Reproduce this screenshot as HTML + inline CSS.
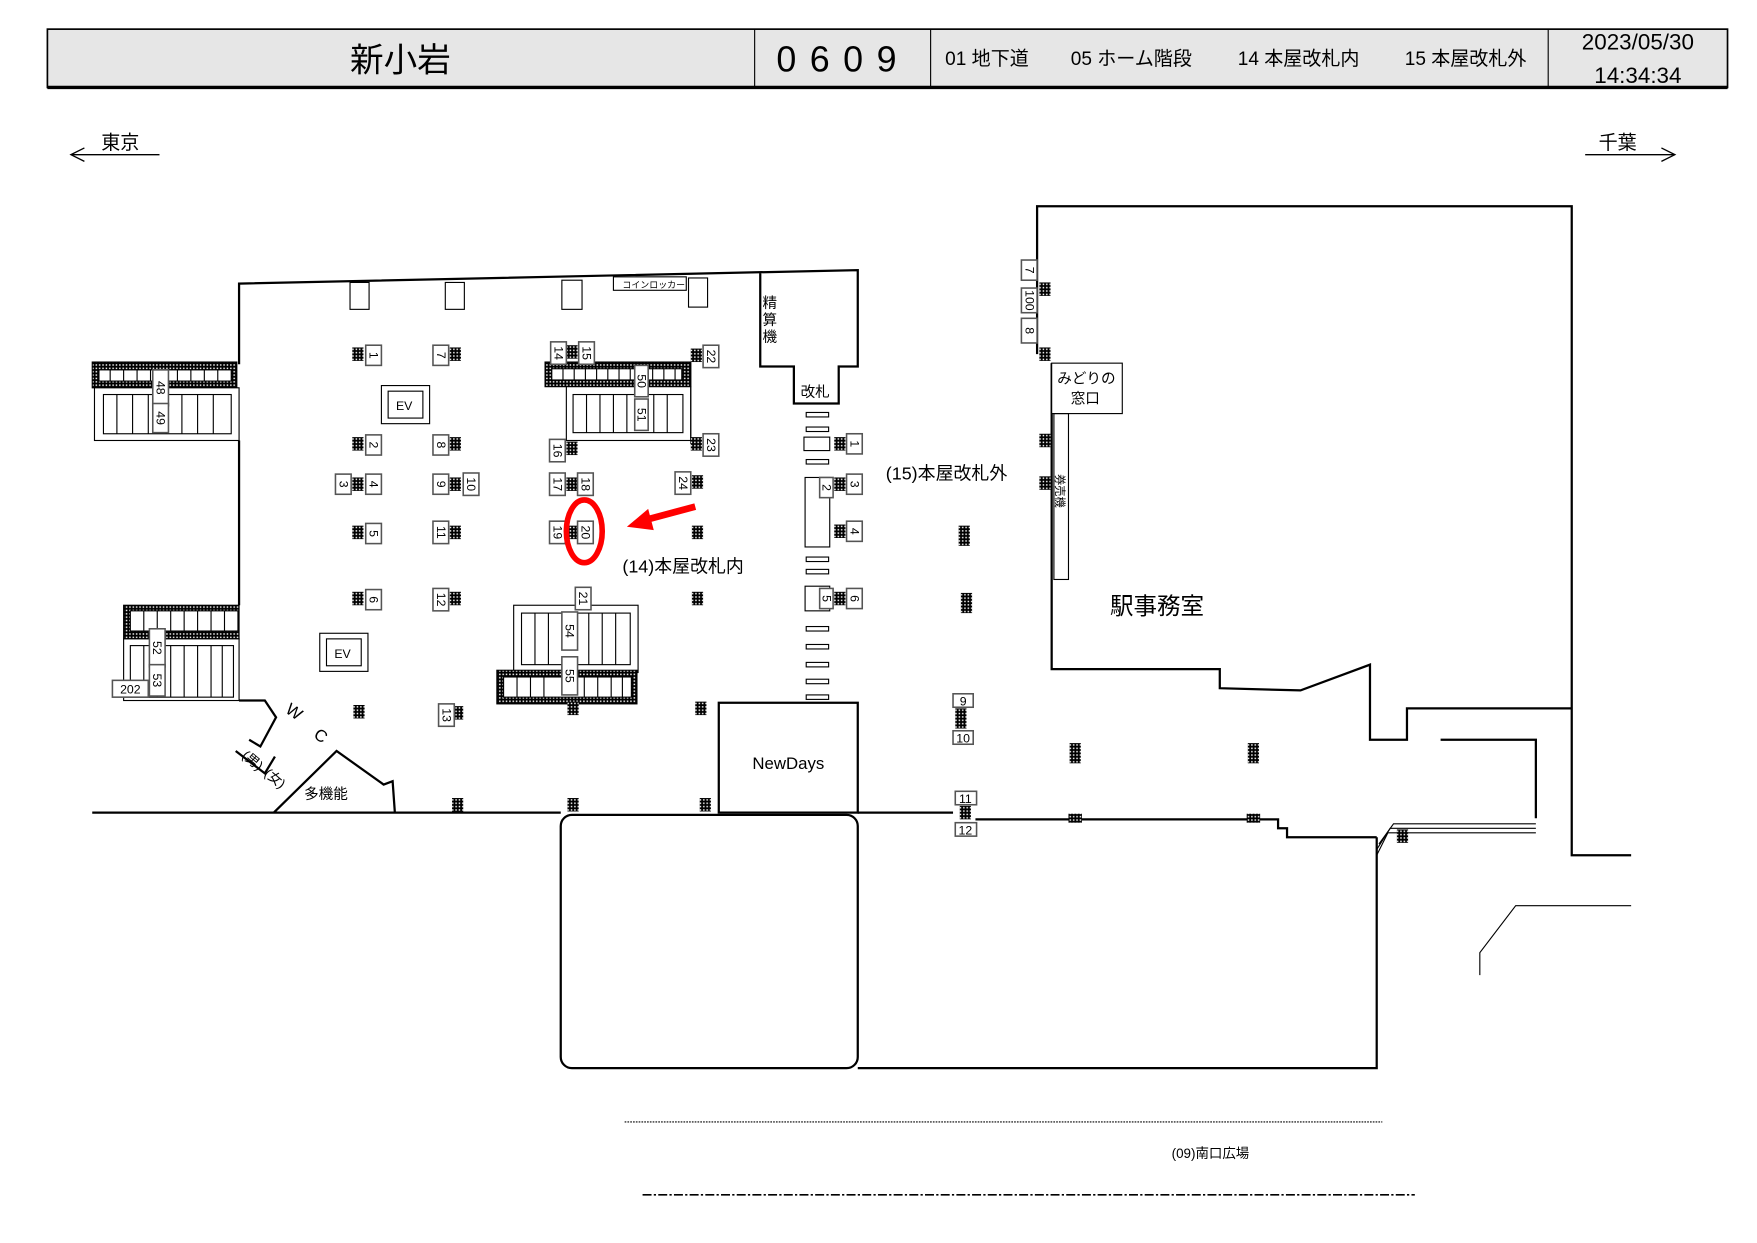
<!DOCTYPE html>
<html><head><meta charset="utf-8"><style>
html,body{margin:0;padding:0;background:#fff}
svg{display:block}
text{font-family:"Liberation Sans","Noto Sans CJK JP",sans-serif;fill:#000}
.l rect{fill:#fff;stroke:#555;stroke-width:1.4}
.l text{font-size:11px;text-anchor:middle;dominant-baseline:central}
</style></head><body>
<svg width="1757" height="1243" viewBox="0 0 1567 1109" xmlns="http://www.w3.org/2000/svg">
<defs>
<pattern id="ck" width="3" height="3" patternUnits="userSpaceOnUse"><rect width="3" height="3" fill="#000"/><rect x="1" y="1" width="1.3" height="1.3" fill="#fff"/></pattern>
<rect id="c" x="-5" y="-6" width="10" height="12" fill="url(#ck)"/>
<rect id="ct" x="-5" y="-9" width="10" height="18" fill="url(#ck)"/>
<rect id="cs" x="-6" y="-4" width="12" height="8" fill="url(#ck)"/>
</defs>
<rect x="42" y="26" width="1499" height="52" fill="#e6e6e6" stroke="#000" stroke-width="1.5"/>
<line x1="42" y1="78" x2="1541" y2="78" stroke="#000" stroke-width="3"/>
<line x1="673" y1="26" x2="673" y2="78" stroke="#000"/>
<line x1="830" y1="26" x2="830" y2="78" stroke="#000"/>
<line x1="1381" y1="26" x2="1381" y2="78" stroke="#000"/>
<text x="357" y="64" font-size="30" text-anchor="middle">新小岩</text>
<text x="752" y="64" font-size="32" text-anchor="middle" letter-spacing="12">0609</text>
<text x="843" y="58" font-size="17">01 地下道</text>
<text x="955" y="58" font-size="17">05 ホーム階段</text>
<text x="1104" y="58" font-size="17">14 本屋改札内</text>
<text x="1253" y="58" font-size="17">15 本屋改札外</text>
<text x="1461" y="44" font-size="20" text-anchor="middle">2023/05/30</text>
<text x="1461" y="74" font-size="20" text-anchor="middle">14:34:34</text>
<g stroke="#000" fill="none" stroke-width="1.2">
<line x1="63" y1="138" x2="142" y2="138"/><polyline points="75,132 63,138 75,144"/>
<line x1="1414" y1="138" x2="1494" y2="138"/><polyline points="1482,132 1494,138 1482,144"/>
</g>
<text x="90" y="133" font-size="17">東京</text>
<text x="1426" y="133" font-size="17">千葉</text>
<g stroke="#000" fill="none" stroke-width="2">
<polyline points="213,325 213,253 765,241 765,327 748,327 748,360 708,360 708,327 678,327 678,243"/>
<line x1="213" y1="393" x2="213" y2="540"/>
<line x1="82" y1="725" x2="500" y2="725"/>
<line x1="765" y1="725" x2="850" y2="725"/>
<polyline points="870,731 1140,731 1140,739 1148,739 1148,747 1228,747"/>
<polyline points="1228,747 1228,953 765,953"/>
<rect x="500" y="727" width="265" height="226" rx="10"/>
<rect x="641" y="627" width="124" height="98"/>
<polyline points="925,316 925,184 1402,184 1402,763 1455,763"/>
<polyline points="938,324 938,597 1088,597 1088,614 1160,616 1222,593 1222,660 1255,660 1255,632 1402,632"/>
<polyline points="1285,660 1370,660 1370,730"/>
<polyline points="213,625 236,625 246,640 232,666 222,660"/>
<polyline points="210,670 236,690 245,675"/>
<polyline points="244,725 300,670 342,700 350,697 352,725"/>
</g>
<g stroke="#000" fill="none" stroke-width="1">
<polyline points="1228,763 1238,743 1370,743"/><polyline points="1228,758 1240,739 1370,739"/><polyline points="1230,753 1243,735 1370,735"/>
<polyline points="1320,870 1320,850 1352,808 1455,808"/>
<rect x="938" y="324" width="63" height="45" fill="#fff"/>
<rect x="940" y="369" width="13" height="148"/>
<rect x="312" y="252" width="17" height="24"/><rect x="397" y="252" width="17" height="24"/><rect x="501" y="250" width="18" height="26"/><rect x="614" y="248" width="17" height="26"/>
<rect x="547" y="247" width="65" height="12"/>
</g>
<line x1="557" y1="1001" x2="1233" y2="1001" stroke="#000" stroke-width="1" stroke-dasharray="1.5,1"/>
<line x1="573" y1="1066" x2="1262" y2="1066" stroke="#000" stroke-width="1.5" stroke-dasharray="8,2,2,2"/>
<g stroke="#000" stroke-width="1" fill="#fff">
<rect x="82" y="323" width="129" height="23" fill="url(#ck)"/>
<rect x="88" y="330" width="118" height="10"/>
<path d="M98 330v10M110 330v10M122 330v10M134 330v10M146 330v10M158 330v10M170 330v10M182 330v10M194 330v10" fill="none"/>
<rect x="84" y="346" width="129" height="47"/>
<rect x="92" y="352" width="114" height="35"/>
<path d="M104 352v35M118 352v35M132 352v35M148 352v35M162 352v35M176 352v35M190 352v35" fill="none"/>
<rect x="110" y="540" width="103" height="30" fill="url(#ck)"/>
<rect x="116" y="545" width="96" height="18"/>
<path d="M128 545v18M140 545v18M152 545v18M164 545v18M176 545v18M188 545v18M200 545v18" fill="none"/>
<rect x="110" y="570" width="103" height="55"/>
<rect x="116" y="576" width="92" height="46"/>
<path d="M128 576v46M140 576v46M152 576v46M164 576v46M176 576v46M188 576v46M198 576v46" fill="none"/>
<rect x="486" y="323" width="130" height="22" fill="url(#ck)"/>
<rect x="492" y="329" width="116" height="10"/>
<path d="M502 329v10M512 329v10M522 329v10M532 329v10M542 329v10M552 329v10M562 329v10M582 329v10M592 329v10M602 329v10" fill="none"/>
<rect x="505" y="345" width="111" height="48"/>
<rect x="511" y="352" width="98" height="34"/>
<path d="M523 352v34M535 352v34M547 352v34M559 352v34M583 352v34M595 352v34" fill="none"/>
<line x1="616" y1="323" x2="616" y2="396"/>
<rect x="458" y="540" width="111" height="60"/>
<rect x="465" y="547" width="97" height="46"/>
<path d="M477 547v46M489 547v46M525 547v46M537 547v46M549 547v46" fill="none"/>
<rect x="443" y="598" width="125" height="30" fill="url(#ck)"/>
<rect x="449" y="604" width="114" height="18"/>
<path d="M461 604v18M473 604v18M485 604v18M521 604v18M533 604v18M545 604v18M555 604v18" fill="none"/>
<rect x="340" y="344" width="43" height="34"/><rect x="346" y="349" width="31" height="24"/>
<rect x="285" y="565" width="43" height="34"/><rect x="291" y="570" width="31" height="24"/>
</g>
<text x="353" y="366" font-size="11">EV</text><text x="298" y="587" font-size="11">EV</text>
<text x="555" y="257" font-size="8">コインロッカー</text>
<g fill="#fff" stroke="#000" stroke-width="1">
<rect x="719" y="368" width="20" height="4"/><rect x="719" y="381" width="20" height="4"/><rect x="717" y="390" width="23" height="12"/><rect x="719" y="410" width="20" height="4"/>
<rect x="718" y="426" width="22" height="62"/><rect x="719" y="497" width="20" height="4"/><rect x="719" y="508" width="20" height="4"/><rect x="718" y="523" width="22" height="22"/>
<rect x="719" y="559" width="20" height="4"/><rect x="719" y="575" width="20" height="4"/><rect x="719" y="591" width="20" height="4"/><rect x="719" y="606" width="20" height="4"/><rect x="719" y="620" width="20" height="4"/>
</g>
<g>
<use href="#c" x="319" y="316"/><use href="#c" x="406" y="316"/><use href="#c" x="510" y="314"/><use href="#c" x="621" y="317"/>
<use href="#c" x="319" y="396"/><use href="#c" x="406" y="396"/><use href="#c" x="510" y="400"/><use href="#c" x="621" y="396"/>
<use href="#c" x="319" y="432"/><use href="#c" x="406" y="432"/><use href="#c" x="510" y="432"/><use href="#c" x="622" y="430"/>
<use href="#c" x="319" y="475"/><use href="#c" x="406" y="475"/><use href="#c" x="510" y="475"/><use href="#c" x="622" y="475"/>
<use href="#c" x="319" y="534"/><use href="#c" x="406" y="534"/><use href="#c" x="622" y="534"/>
<use href="#c" x="320" y="635"/><use href="#c" x="408" y="636"/><use href="#c" x="511" y="632"/><use href="#c" x="625" y="632"/>
<use href="#c" x="408" y="718"/><use href="#c" x="511" y="718"/><use href="#c" x="629" y="718"/>
<use href="#c" x="749" y="396"/><use href="#c" x="749" y="432"/><use href="#c" x="749" y="474"/><use href="#c" x="749" y="534"/>
<use href="#ct" x="860" y="478"/><use href="#ct" x="862" y="538"/><use href="#ct" x="857" y="641"/><use href="#c" x="861" y="725"/>
<use href="#ct" x="959" y="672"/><use href="#ct" x="1118" y="672"/><use href="#cs" x="959" y="730"/><use href="#cs" x="1118" y="730"/><use href="#c" x="1251" y="746"/>
<use href="#c" x="932" y="258"/><use href="#c" x="932" y="316"/><use href="#c" x="932" y="393"/><use href="#c" x="932" y="431"/>
</g>
<g class="l">
<g transform="translate(333,317) rotate(90)"><rect x="-9" y="-7" width="18" height="14"/><text>1</text></g>
<g transform="translate(393,317) rotate(90)"><rect x="-9" y="-7" width="18" height="14"/><text>7</text></g>
<g transform="translate(498,315) rotate(90)"><rect x="-10" y="-7" width="20" height="14"/><text>14</text></g>
<g transform="translate(523,315) rotate(90)"><rect x="-10" y="-7" width="20" height="14"/><text>15</text></g>
<g transform="translate(634,318) rotate(90)"><rect x="-10" y="-7" width="20" height="14"/><text>22</text></g>
<g transform="translate(333,397) rotate(90)"><rect x="-9" y="-7" width="18" height="14"/><text>2</text></g>
<g transform="translate(393,397) rotate(90)"><rect x="-9" y="-7" width="18" height="14"/><text>8</text></g>
<g transform="translate(497,402) rotate(90)"><rect x="-10" y="-7" width="20" height="14"/><text>16</text></g>
<g transform="translate(634,397) rotate(90)"><rect x="-10" y="-7" width="20" height="14"/><text>23</text></g>
<g transform="translate(306,432) rotate(90)"><rect x="-9" y="-7" width="18" height="14"/><text>3</text></g>
<g transform="translate(333,432) rotate(90)"><rect x="-9" y="-7" width="18" height="14"/><text>4</text></g>
<g transform="translate(393,432) rotate(90)"><rect x="-9" y="-7" width="18" height="14"/><text>9</text></g>
<g transform="translate(420,432) rotate(90)"><rect x="-10" y="-7" width="20" height="14"/><text>10</text></g>
<g transform="translate(497,432) rotate(90)"><rect x="-10" y="-7" width="20" height="14"/><text>17</text></g>
<g transform="translate(522,432) rotate(90)"><rect x="-10" y="-7" width="20" height="14"/><text>18</text></g>
<g transform="translate(609,431) rotate(90)"><rect x="-10" y="-7" width="20" height="14"/><text>24</text></g>
<g transform="translate(333,476) rotate(90)"><rect x="-9" y="-7" width="18" height="14"/><text>5</text></g>
<g transform="translate(393,475) rotate(90)"><rect x="-10" y="-7" width="20" height="14"/><text>11</text></g>
<g transform="translate(497,475) rotate(90)"><rect x="-10" y="-7" width="20" height="14"/><text>19</text></g>
<g transform="translate(522,475) rotate(90)"><rect x="-10" y="-7" width="20" height="14"/><text>20</text></g>
<g transform="translate(333,535) rotate(90)"><rect x="-9" y="-7" width="18" height="14"/><text>6</text></g>
<g transform="translate(393,535) rotate(90)"><rect x="-10" y="-7" width="20" height="14"/><text>12</text></g>
<g transform="translate(520,534) rotate(90)"><rect x="-10" y="-7" width="20" height="14"/><text>21</text></g>
<g transform="translate(398,638) rotate(90)"><rect x="-10" y="-7" width="20" height="14"/><text>13</text></g>
<g transform="translate(143,346) rotate(90)"><rect x="-16" y="-7" width="32" height="14"/><text>48</text></g>
<g transform="translate(143,373) rotate(90)"><rect x="-13" y="-7" width="26" height="14"/><text>49</text></g>
<g transform="translate(572,340) rotate(90)"><rect x="-14" y="-6" width="28" height="12"/><text>50</text></g>
<g transform="translate(572,370) rotate(90)"><rect x="-14" y="-6" width="28" height="12"/><text>51</text></g>
<g transform="translate(140,578) rotate(90)"><rect x="-17" y="-7" width="34" height="14"/><text>52</text></g>
<g transform="translate(140,607) rotate(90)"><rect x="-14" y="-7" width="28" height="14"/><text>53</text></g>
<g transform="translate(508,563) rotate(90)"><rect x="-17" y="-7" width="34" height="14"/><text>54</text></g>
<g transform="translate(508,603) rotate(90)"><rect x="-17" y="-7" width="34" height="14"/><text>55</text></g>
<g transform="translate(762,396) rotate(90)"><rect x="-9" y="-7" width="18" height="14"/><text>1</text></g>
<g transform="translate(737,435) rotate(90)"><rect x="-9" y="-6" width="18" height="12"/><text>2</text></g>
<g transform="translate(762,432) rotate(90)"><rect x="-9" y="-7" width="18" height="14"/><text>3</text></g>
<g transform="translate(762,474) rotate(90)"><rect x="-9" y="-7" width="18" height="14"/><text>4</text></g>
<g transform="translate(737,534) rotate(90)"><rect x="-9" y="-6" width="18" height="12"/><text>5</text></g>
<g transform="translate(762,534) rotate(90)"><rect x="-9" y="-7" width="18" height="14"/><text>6</text></g>
<g transform="translate(918,241) rotate(90)"><rect x="-9" y="-7" width="18" height="14"/><text>7</text></g>
<g transform="translate(918,268) rotate(90)"><rect x="-11" y="-7" width="22" height="14"/><text>100</text></g>
<g transform="translate(918,295) rotate(90)"><rect x="-11" y="-7" width="22" height="14"/><text>8</text></g>
<g><rect x="850" y="619" width="18" height="12"/><text x="859" y="626">9</text></g>
<g><rect x="850" y="652" width="18" height="12"/><text x="859" y="659">10</text></g>
<g><rect x="852" y="706" width="19" height="12"/><text x="861" y="713">11</text></g>
<g><rect x="852" y="734" width="19" height="12"/><text x="861" y="741">12</text></g>
<g><rect x="100" y="607" width="32" height="15"/><text x="116" y="615" font-size="13">202</text></g>
</g>
<text x="680" y="275" font-size="13">精</text><text x="680" y="290" font-size="13">算</text><text x="680" y="305" font-size="13">機</text>
<text x="714" y="354" font-size="13">改札</text>
<text x="943" y="342" font-size="13">みどりの</text><text x="955" y="360" font-size="13">窓口</text>
<text transform="translate(942,423) rotate(90)" font-size="10">券売機</text>
<text x="790" y="428" font-size="16">(15)本屋改札外</text>
<text x="555" y="511" font-size="16">(14)本屋改札内</text>
<text x="990" y="548" font-size="21">駅事務室</text>
<text x="671" y="686" font-size="15">NewDays</text>
<text x="271" y="713" font-size="13">多機能</text>
<text x="255" y="640" font-size="15" transform="rotate(35 262 635)">W</text>
<text x="281" y="662" font-size="15" transform="rotate(35 287 656)">C</text>
<text x="216" y="680" font-size="12" transform="rotate(40 222 676)">(男)</text>
<text x="236" y="696" font-size="12" transform="rotate(40 242 692)">(女)</text>
<text x="1045" y="1033" font-size="12">(09)南口広場</text>
<ellipse cx="521" cy="474" rx="16" ry="28" fill="none" stroke="#f00" stroke-width="5"/>
<line x1="620" y1="452" x2="575" y2="464" stroke="#f00" stroke-width="6"/>
<polygon points="559,470 578,454 583,473" fill="#f00"/>
</svg>
</body></html>
